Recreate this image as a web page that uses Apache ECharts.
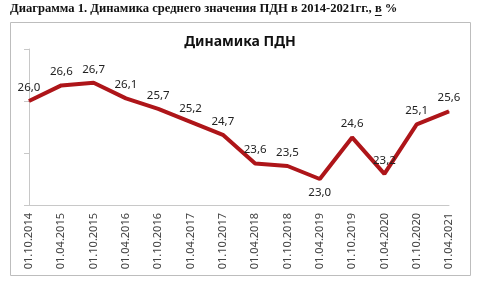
<!DOCTYPE html>
<html><head><meta charset="utf-8">
<script src="https://cdn.jsdelivr.net/npm/echarts@6/dist/echarts.min.js"></script>
<style>html,body{margin:0;padding:0;background:#fff}#c{width:480px;height:285px}</style>
</head><body><div id="c"></div>
<script>
const categories = ['01.10.2014','01.04.2015','01.10.2015','01.04.2016','01.10.2016','01.04.2017','01.10.2017','01.04.2018','01.10.2018','01.04.2019','01.10.2019','01.04.2020','01.10.2020','01.04.2021'];
const values = [26.0, 26.6, 26.7, 26.1, 25.7, 25.2, 24.7, 23.6, 23.5, 23.0, 24.6, 23.2, 25.1, 25.6];
const belowIdx = [9];
const headingA = 'Диаграмма 1. Динамика среднего значения ПДН в 2014-2021гг., ';
const headingB = 'в';
const headingC = ' %';
const chartTitle = 'Динамика ПДН';

const hFont = 'bold 12.6px "Liberation Serif"';
const cv = document.createElement('canvas').getContext('2d');
cv.font = hFont;
const wA = cv.measureText(headingA).width;
const wB = cv.measureText(headingB).width;
const hx = 10, hy = 9;

const chart = echarts.init(document.getElementById('c'));
chart.setOption({
  animation: false,
  title: {text: chartTitle, left: 'center', top: 30, textStyle: {fontFamily: 'Noto Sans', fontWeight: 'bold', fontSize: 14, color: '#111'}},
  graphic: [
    {type: 'rect', shape: {x: 10.5, y: 22.5, width: 460, height: 253}, style: {fill: 'none', stroke: '#bdbdbd', lineWidth: 1}},
    {type: 'text', x: hx, y: hy, style: {text: headingA + headingB + headingC, font: hFont, fill: '#111', verticalAlign: 'middle', textVerticalAlign: 'middle'}},
    {type: 'line', shape: {x1: hx + wA, y1: hy + 6.5, x2: hx + wA + wB, y2: hy + 6.5}, style: {stroke: '#111', lineWidth: 1}}
  ],
  grid: {left: 29, right: 31, top: 49, bottom: 80},
  xAxis: {
    type: 'category', data: categories, boundaryGap: false,
    axisLine: {lineStyle: {color: '#c8c8c8', width: 1}},
    axisTick: {show: false},
    axisLabel: {rotate: 90, interval: 0, fontFamily: 'Noto Sans', fontSize: 11, color: '#444', margin: 8}
  },
  yAxis: {
    type: 'value', min: 22, max: 28, interval: 2,
    axisLine: {show: true, lineStyle: {color: '#c8c8c8'}},
    axisTick: {show: true, length: 5, lineStyle: {color: '#c8c8c8'}},
    axisLabel: {show: false},
    splitLine: {show: false}
  },
  series: [{
    type: 'line', data: values.map((v, i) => ({
      value: v,
      label: {position: belowIdx.includes(i) ? 'bottom' : 'top'}
    })),
    symbol: 'circle', symbolSize: 1, showSymbol: true,
    itemStyle: {color: '#AE1519'},
    lineStyle: {color: '#AE1519', width: 4},
    label: {show: true, distance: 7, fontFamily: 'Noto Sans', fontSize: 11.5, color: '#222',
      formatter: p => p.value.toFixed(1).replace('.', ',')}
  }]
});
</script></body></html>
